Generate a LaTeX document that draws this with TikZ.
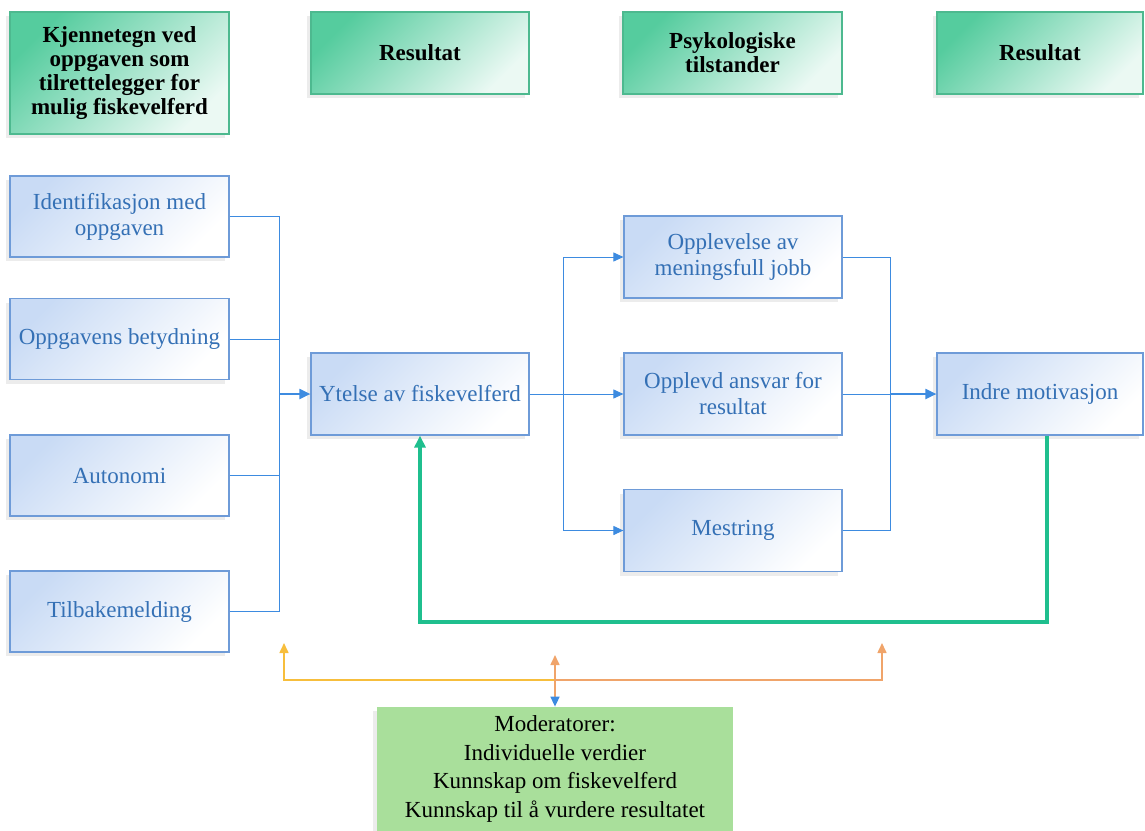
\documentclass[tikz,border=0pt]{standalone}
\usepackage{fontspec}
\setmainfont{Liberation Serif}
\usetikzlibrary{arrows.meta,shadows}

\definecolor{lineblue}{HTML}{3D8BE0}
\definecolor{textblue}{HTML}{3470B5}
\definecolor{boxedge}{HTML}{6E9BD8}
\definecolor{boxfill}{HTML}{C9DBF5}
\definecolor{headfill}{HTML}{55CC9E}
\definecolor{headedge}{HTML}{4DB98F}
\definecolor{fbgreen}{HTML}{1FBF8E}
\definecolor{modfill}{HTML}{A9DF9B}
\definecolor{modyellow}{HTML}{F7BE3C}
\definecolor{modorange}{HTML}{F0A46A}

\tikzset{
  headbox/.style={draw=headedge, line width=0.6pt, top color=headfill, bottom color=headfill!12,
    shading angle=45, align=center, font=\fontsize{11.5}{12}\selectfont\bfseries,
    drop shadow={shadow xshift=-2pt, shadow yshift=-2pt, opacity=0.15}},
  factor/.style={draw=boxedge, line width=0.6pt, top color=boxfill, bottom color=white,
    shading angle=45, align=center, text=textblue, font=\fontsize{11.5}{13}\selectfont,
    drop shadow={shadow xshift=-2pt, shadow yshift=-2pt, opacity=0.15}},
  modbox/.style={fill=modfill, align=center, font=\fontsize{11.5}{14.2}\selectfont,
    drop shadow={shadow xshift=-2pt, shadow yshift=-2pt, opacity=0.15}},
  link/.style={draw=lineblue, line width=0.5pt},
  linkarr/.style={link, -{Triangle[length=5pt,width=4.5pt]}},
  bigarr/.style={link, line width=1pt, -{Triangle[length=5.5pt,width=5pt]}},
  feedback/.style={draw=fbgreen, line width=1.6pt, -{Triangle[length=6pt,width=5.5pt]}},
  modline/.style={line width=0.8pt, -{Triangle[length=5pt,width=4.5pt]}}
}

\begin{document}
\begin{tikzpicture}[x=0.5pt, y=-0.5pt]
  \useasboundingbox (0,0) rectangle (1145,830);

  % headings
  \node[headbox, minimum width=109.5pt, minimum height=61pt] (h1) at (119.5,73)
    {Kjennetegn ved\\oppgaven som\\tilrettelegger for\\mulig fiskevelferd};
  \node[headbox, minimum width=109pt, minimum height=41pt] (h2) at (420,53) {Resultat};
  \node[headbox, minimum width=109.5pt, minimum height=41pt] (h3) at (732.5,53) {Psykologiske\\tilstander};
  \node[headbox, minimum width=103pt, minimum height=41pt] (h4) at (1040,53) {Resultat};

  % task characteristics
  \node[factor, minimum width=109.5pt, minimum height=40.5pt] (ident) at (119.5,216.5) {Identifikasjon med\\oppgaven};
  \node[factor, minimum width=109.5pt, minimum height=40.5pt] (betyd) at (119.5,339) {Oppgavens betydning};
  \node[factor, minimum width=109.5pt, minimum height=40.5pt] (auto) at (119.5,475.5) {Autonomi};
  \node[factor, minimum width=109.5pt, minimum height=40.5pt] (tilb) at (119.5,611.5) {Tilbakemelding};

  % result, states, motivation
  \node[factor, minimum width=109pt, minimum height=41pt] (ytelse) at (420,394) {Ytelse av fiskevelferd};
  \node[factor, minimum width=109pt, minimum height=41pt] (opplev) at (733,257) {Opplevelse av\\meningsfull jobb};
  \node[factor, minimum width=109pt, minimum height=41pt] (ansvar) at (733,394) {Opplevd ansvar for\\resultat};
  \node[factor, minimum width=109pt, minimum height=41pt] (mestr) at (733,530.5) {Mestring};
  \node[factor, minimum width=103pt, minimum height=41pt] (indre) at (1040,394) {Indre motivasjon};

  % moderators
  \node[modbox, minimum width=178pt, minimum height=62pt] (moder) at (555,769)
    {Moderatorer:\\Individuelle verdier\\Kunnskap om fiskevelferd\\Kunnskap til å vurdere resultatet};

  % junction points
  \coordinate (lbus) at (279,394);
  \coordinate (split) at (563,394);
  \coordinate (rbus) at (890,394);
  \coordinate (fbturn) at (420,622);
  \coordinate (mmid) at (555,680);

  % left bus
  \draw[link] (ident.east) -| (lbus);
  \draw[link] (betyd.east) -| (lbus);
  \draw[link] (auto.east) -| (lbus);
  \draw[link] (tilb.east) -| (lbus);
  \draw[bigarr] (lbus) -- (ytelse.west);

  % split to the three states
  \draw[link] (ytelse.east) -- (split);
  \draw[linkarr] (split) |- (opplev.west);
  \draw[linkarr] (split) -- (ansvar.west);
  \draw[linkarr] (split) |- (mestr.west);

  % right bus
  \draw[link] (opplev.east) -| (rbus);
  \draw[link] (ansvar.east) -- (rbus);
  \draw[link] (mestr.east) -| (rbus);
  \draw[bigarr] (rbus) -- (indre.west);

  % feedback loop
  \draw[feedback] (indre.south -| 1047,0) |- (fbturn) -- (ytelse.south);

  % moderator lines
  \draw[modline, draw=modyellow, modyellow] (mmid) -| (284,643);
  \draw[modline, draw=modorange, modorange] (mmid) -| (882,643);
  \draw[line width=0.8pt, draw=modorange, {Triangle[length=5pt,width=4.5pt,color=modorange]}-{Triangle[length=5pt,width=4.5pt,color=lineblue]}]
    (555,655) -- (moder.north);
\end{tikzpicture}
\end{document}
